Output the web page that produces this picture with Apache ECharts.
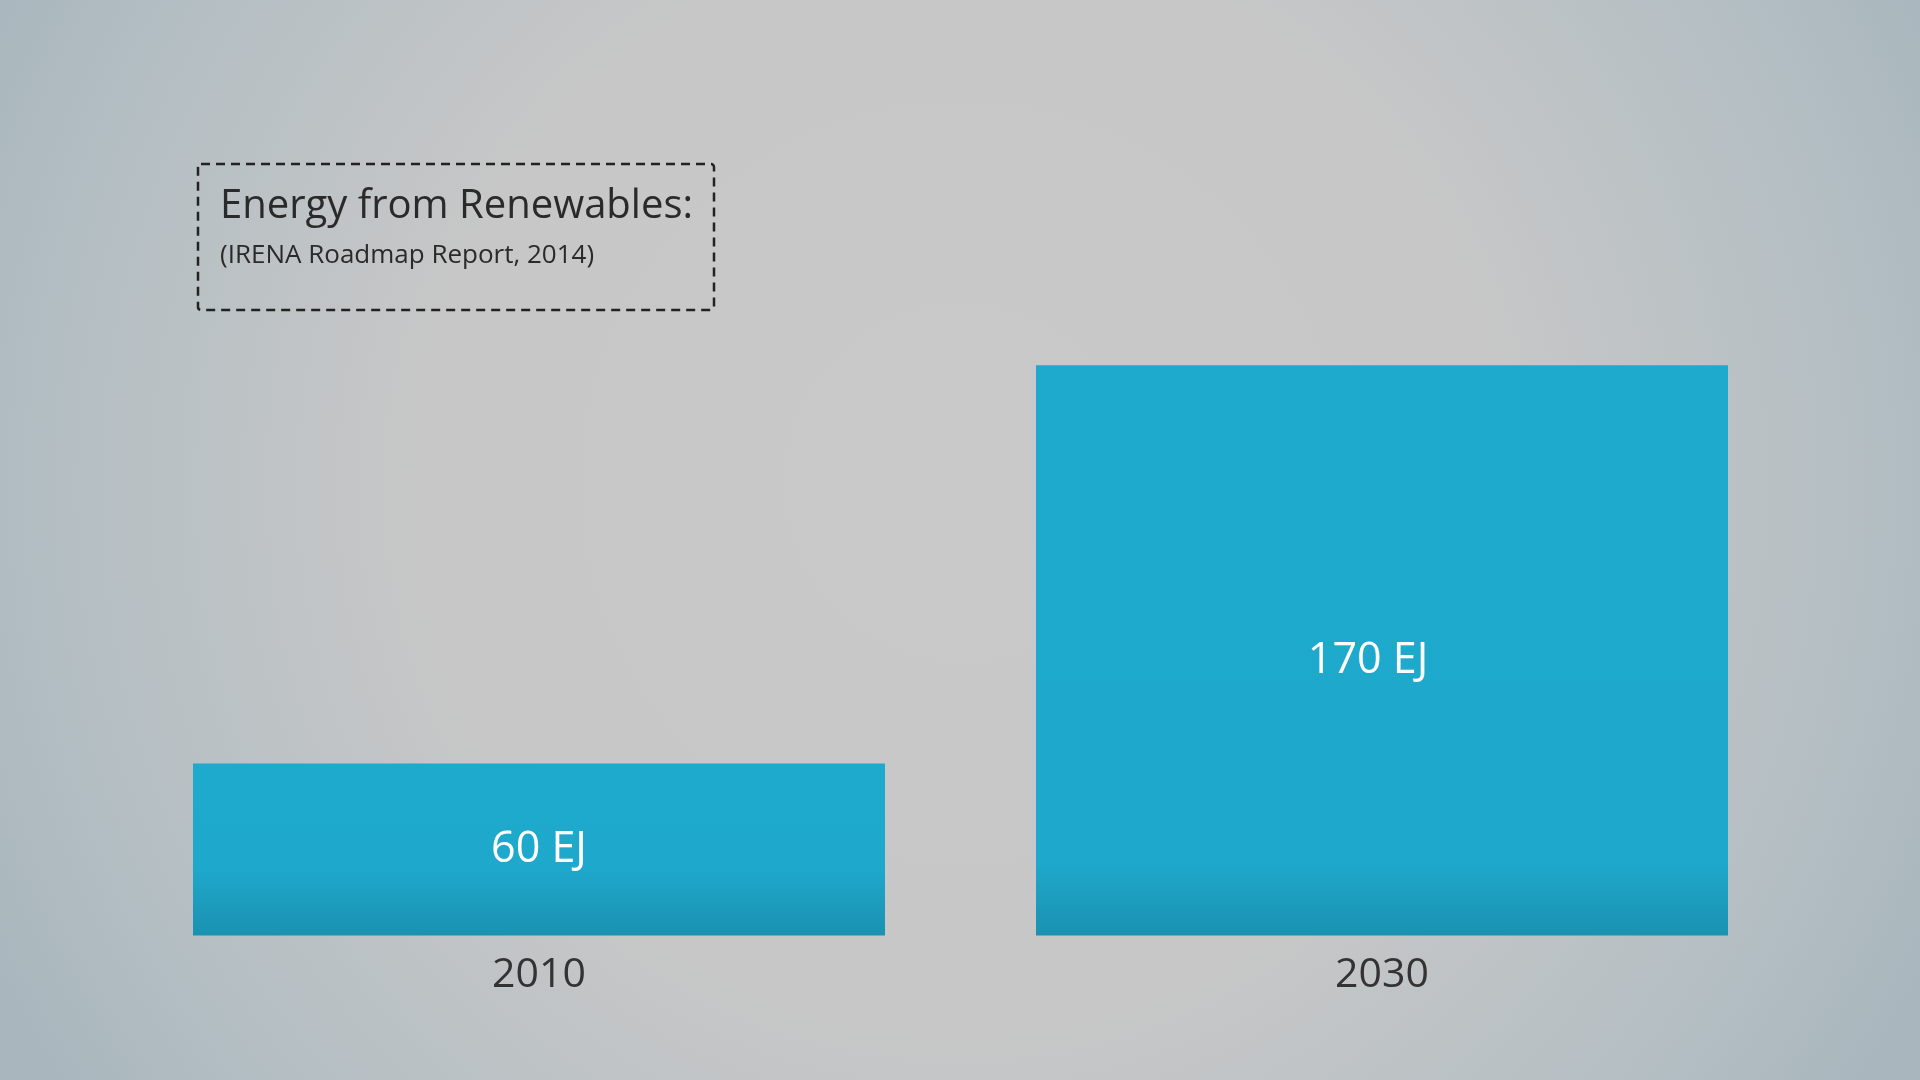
<!DOCTYPE html>
<html>
<head>
<meta charset="utf-8">
<script src="https://cdn.jsdelivr.net/npm/echarts@6/dist/echarts.min.js"></script>
<style>
html,body{margin:0;padding:0;width:1920px;height:1080px;overflow:hidden;}
#c{width:1920px;height:1080px;}
</style>
</head>
<body>
<div id="c"></div>
<script>
const categories = ['2010', '2030'];
const values = [60, 170];
const valueLabels = ['60 EJ', '170 EJ'];
const titleText = 'Energy from Renewables:';
const subtitleText = '(IRENA Roadmap Report, 2014)';

const FONT = '"Open Sans", sans-serif';
const chart = echarts.init(document.getElementById('c'));

function barGradient(darkStart) {
  return {
    type: 'linear', x: 0, y: 0, x2: 0, y2: 1,
    colorStops: [
      { offset: 0, color: '#1eaacd' },
      { offset: darkStart, color: '#1ea9cc' },
      { offset: 1, color: '#1b91b1' }
    ]
  };
}
const darkStarts = [0.6, 0.87];
const labelOffsets = [[0, 0], [-14, 10]];

chart.setOption({
  backgroundColor: {
    type: 'radial', x: 0.5, y: 0.45, r: 1.0,
    colorStops: [
      { offset: 0, color: '#c9c9c9' },
      { offset: 0.5, color: '#c7c7c7' },
      { offset: 0.85, color: '#b3bec3' },
      { offset: 1, color: '#a9b6bd' }
    ]
  },
  animation: false,
  title: {
    text: titleText,
    subtext: subtitleText,
    left: 215,
    top: 182,
    itemGap: 16,
    textStyle: { fontFamily: FONT, fontSize: 40, fontWeight: 'normal', color: '#2a2a2a' },
    subtextStyle: { fontFamily: FONT, fontSize: 26, color: '#2a2a2a' }
  },
  graphic: [{
    type: 'rect',
    shape: { x: 198, y: 164, width: 516, height: 146, r: 3 },
    style: { fill: 'none', stroke: '#222', lineWidth: 2.5, lineDash: [9, 6] },
    z: 10
  }],
  grid: { left: 117.5, right: 116.5, top: 256.5, bottom: 144.5, containLabel: false },
  xAxis: {
    type: 'category',
    data: categories,
    axisLine: { show: false },
    axisTick: { show: false },
    axisLabel: { fontFamily: FONT, fontSize: 41, color: '#333', margin: 19 }
  },
  yAxis: {
    type: 'value',
    min: 12.5,
    max: 200,
    show: false,
    splitLine: { show: false }
  },
  series: [{
    type: 'bar',
    barWidth: 692,
    data: values.map((v, i) => ({
      value: v,
      itemStyle: { color: barGradient(darkStarts[i]) },
      label: { offset: labelOffsets[i] }
    })),
    label: {
      show: true,
      position: 'inside',
      fontFamily: FONT,
      fontSize: 43,
      color: '#ffffff',
      formatter: p => valueLabels[p.dataIndex]
    }
  }]
});
</script>
</body>
</html>
